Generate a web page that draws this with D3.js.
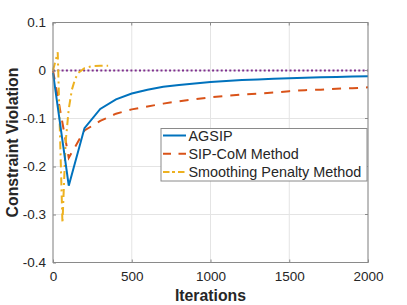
<!DOCTYPE html>
<html>
<head>
<meta charset="utf-8">
<script src="https://cdn.jsdelivr.net/npm/d3@7"></script>
<style>
  html, body { margin: 0; padding: 0; background: #fff; }
  svg { display: block; font-family: "Liberation Sans", Arial, sans-serif; }
</style>
</head>
<body>
<svg id="chart" width="407" height="305"></svg>
<script>
// ---- data ----
const agsipIter = [0, 100, 200, 300, 400, 500, 600, 700, 800, 900, 1000, 1100, 1200, 1300, 1400, 1500, 1600, 1700, 1800, 1900, 2000];
const agsipVal  = [-0.005, -0.24, -0.12, -0.08, -0.06, -0.048, -0.04, -0.034, -0.03, -0.027, -0.024, -0.022, -0.02, -0.0185, -0.017, -0.016, -0.015, -0.014, -0.0133, -0.0126, -0.012];

const sipIter = [0, 100, 200, 300, 400, 500, 600, 700, 800, 900, 1000, 1100, 1200, 1300, 1400, 1500, 1600, 1700, 1800, 1900, 2000];
const sipVal  = [0, -0.182, -0.125, -0.105, -0.09, -0.081, -0.075, -0.069, -0.064, -0.06, -0.056, -0.053, -0.05, -0.048, -0.046, -0.043, -0.041, -0.04, -0.038, -0.037, -0.035];

const spmIter = [0, 30, 60, 80, 100, 120, 140, 160, 200, 250, 300, 350];
const spmVal  = [0, 0.038, -0.318, -0.15, -0.08, -0.04, -0.018, -0.005, 0.005, 0.009, 0.01, 0.01];

const refIter = [0, 2000];
const refVal  = [0, 0];

const xTicks = [0, 500, 1000, 1500, 2000];
const yTicks = [0.1, 0, -0.1, -0.2, -0.3, -0.4];
const yTickLabels = ["0.1", "0", "-0.1", "-0.2", "-0.3", "-0.4"];

const seriesNames = ["AGSIP", "SIP-CoM Method", "Smoothing Penalty Method"];

// ---- layout ----
const svg = d3.select("#chart");
const L = 53, R = 368, T = 22.5, B = 262.5;
const x = d3.scaleLinear().domain([0, 2000]).range([L, R]);
const y = d3.scaleLinear().domain([-0.4, 0.1]).range([B, T]);

const axisColor = "#8a8a8a";
const textColor = "#262626";

// grid
const g = svg.append("g");
g.selectAll(".gx").data(xTicks).enter().append("line")
  .attr("x1", d => x(d)).attr("x2", d => x(d)).attr("y1", T).attr("y2", B)
  .attr("stroke", "#e4e4e4").attr("stroke-width", 1);
g.selectAll(".gy").data(yTicks).enter().append("line")
  .attr("x1", L).attr("x2", R).attr("y1", d => y(d)).attr("y2", d => y(d))
  .attr("stroke", "#e4e4e4").attr("stroke-width", 1);

// lines
const line = d3.line().x(d => x(d[0])).y(d => y(d[1]));
const zip = (a, b) => a.map((v, i) => [v, b[i]]);

svg.append("path").datum(zip(refIter, refVal)).attr("d", line)
  .attr("fill", "none").attr("stroke", "#7E2F8E").attr("stroke-width", 2)
  .attr("stroke-dasharray", "2,2.3");

svg.append("path").datum(zip(sipIter, sipVal)).attr("d", line)
  .attr("fill", "none").attr("stroke", "#D95319").attr("stroke-width", 2)
  .attr("stroke-dasharray", "9,8");

svg.append("path").datum(zip(spmIter, spmVal)).attr("d", line)
  .attr("fill", "none").attr("stroke", "#EDB120").attr("stroke-width", 2)
  .attr("stroke-dasharray", "8,4,2,4");

svg.append("path").datum(zip(agsipIter, agsipVal)).attr("d", line)
  .attr("fill", "none").attr("stroke", "#0072BD").attr("stroke-width", 2);

// axes
const xAxis = d3.axisBottom(x).tickValues(xTicks).tickSize(-3).tickPadding(9).tickFormat(d3.format("d"));
const yAxis = d3.axisLeft(y).tickValues(yTicks).tickSize(-3).tickPadding(7).tickFormat((d, i) => yTickLabels[i]);

const gx = svg.append("g").attr("transform", `translate(0,${B})`).call(xAxis);
const gy = svg.append("g").attr("transform", `translate(${L},0)`).call(yAxis);
[gx, gy].forEach(a => {
  a.select(".domain").remove();
  a.selectAll(".tick line").attr("stroke", axisColor);
  a.selectAll(".tick text").attr("fill", textColor).style("font-size", "13.5px")
    .style("font-family", "'Liberation Sans', Arial, sans-serif");
});

// box
svg.append("rect").attr("x", L).attr("y", T).attr("width", R - L).attr("height", B - T)
  .attr("fill", "none").attr("stroke", axisColor).attr("stroke-width", 1);
// top/right ticks
svg.selectAll(".tt").data(xTicks).enter().append("line")
  .attr("x1", d => x(d)).attr("x2", d => x(d)).attr("y1", T).attr("y2", T + 3).attr("stroke", axisColor);
svg.selectAll(".rt").data(yTicks).enter().append("line")
  .attr("x1", R - 3).attr("x2", R).attr("y1", d => y(d)).attr("y2", d => y(d)).attr("stroke", axisColor);

// axis labels
svg.append("text").attr("x", (L + R) / 2).attr("y", 301)
  .attr("text-anchor", "middle").attr("fill", textColor)
  .style("font-size", "15.8px").style("font-weight", "bold").text("Iterations");
svg.append("text").attr("transform", `translate(17.5,${(T + B) / 2}) rotate(-90)`)
  .attr("text-anchor", "middle").attr("fill", textColor)
  .style("font-size", "15.8px").style("font-weight", "bold").text("Constraint Violation");

// legend
const leg = svg.append("g");
leg.append("rect").attr("x", 161).attr("y", 128.5).attr("width", 206).attr("height", 52.5)
  .attr("fill", "#fff").attr("stroke", axisColor).attr("stroke-width", 1);
const legStyles = [
  { c: "#0072BD", d: null },
  { c: "#D95319", d: "8,7.5" },
  { c: "#EDB120", d: "6.5,2.5,3,3" }
];
seriesNames.forEach((name, i) => {
  const yy = 135.5 + i * 18.3;
  const ln = leg.append("line").attr("x1", 163).attr("x2", 186).attr("y1", yy).attr("y2", yy)
    .attr("stroke", legStyles[i].c).attr("stroke-width", 2);
  if (legStyles[i].d) ln.attr("stroke-dasharray", legStyles[i].d);
  leg.append("text").attr("x", 188.5).attr("y", yy).attr("dy", "0.36em")
    .attr("fill", textColor).style("font-size", "14.4px").text(name);
});
</script>
</body>
</html>
